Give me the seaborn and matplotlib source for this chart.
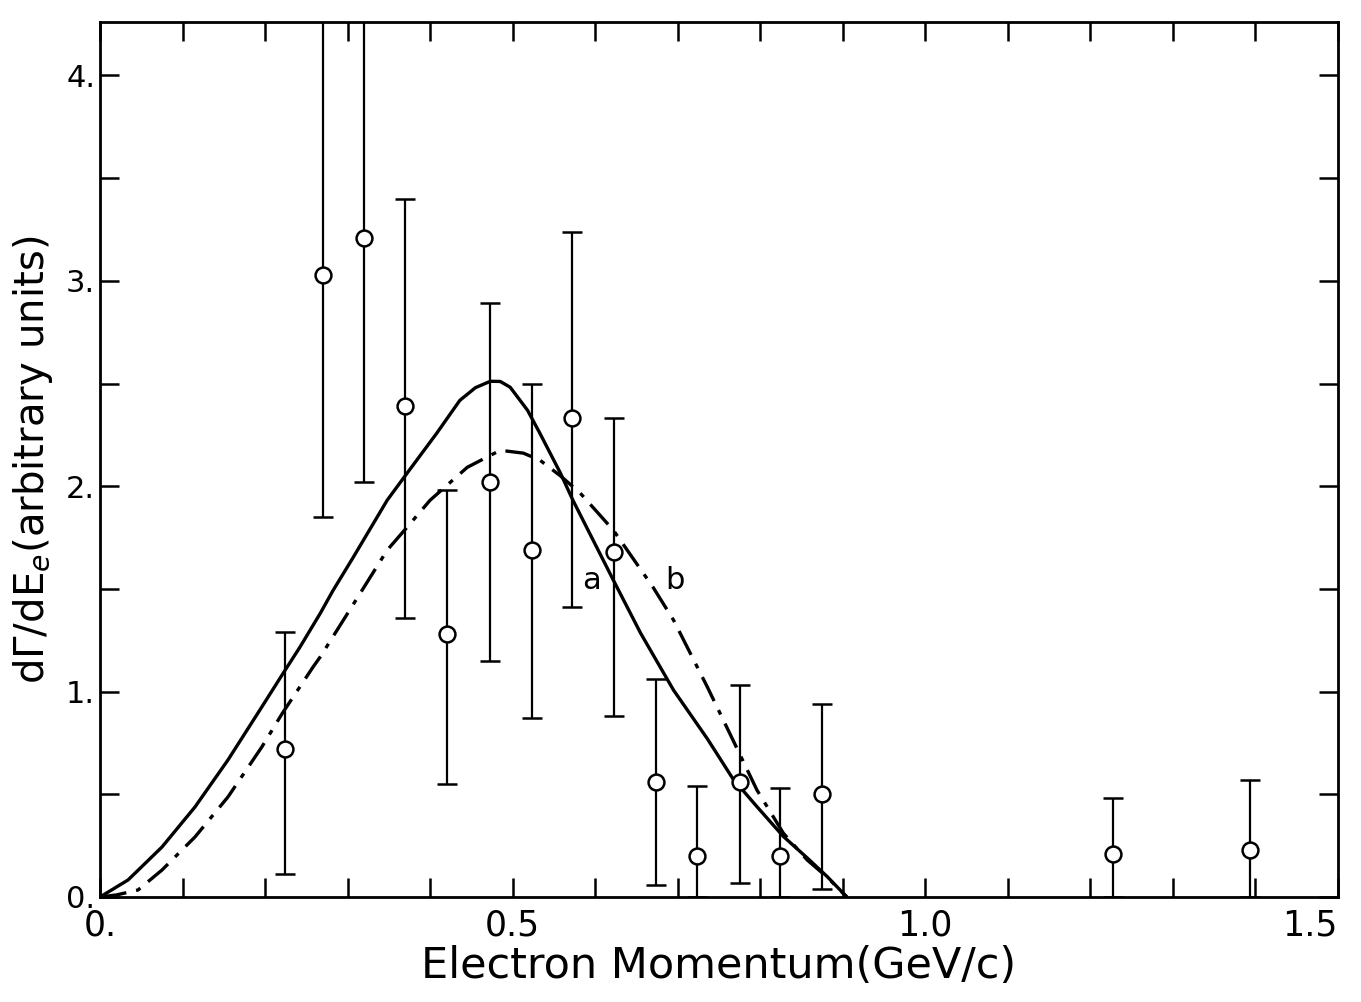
import matplotlib
matplotlib.use("Agg")
import matplotlib.pyplot as plt
import numpy as np
import pandas as pd
import seaborn as sns

# measured points (electron momentum, rate, error bar ends)
p_e = [0.224, 0.270, 0.320, 0.370, 0.421, 0.472, 0.524, 0.572, 0.623,
       0.674, 0.724, 0.775, 0.824, 0.875, 1.227, 1.394]
rate = [0.72, 3.03, 3.21, 2.39, 1.28, 2.02, 1.69, 2.33, 1.68,
        0.56, 0.20, 0.56, 0.20, 0.50, 0.21, 0.23]
err_hi = [1.29, 4.6, 4.6, 3.40, 1.98, 2.89, 2.50, 3.24, 2.33,
          1.06, 0.54, 1.03, 0.53, 0.94, 0.48, 0.57]
err_lo = [0.11, 1.85, 2.02, 1.36, 0.55, 1.15, 0.87, 1.41, 0.88,
          0.06, 0.00, 0.07, 0.00, 0.04, 0.00, 0.00]

# curve a (solid)
a_x = [0.0, 0.034, 0.075, 0.115, 0.155, 0.196, 0.222, 0.242, 0.267, 0.282,
       0.307, 0.348, 0.372, 0.408, 0.436, 0.455, 0.473, 0.485, 0.497, 0.518,
       0.533, 0.558, 0.573, 0.622, 0.655, 0.695, 0.736, 0.767, 0.796, 0.828,
       0.857, 0.881, 0.905]
a_y = [0.0, 0.083, 0.243, 0.438, 0.667, 0.925, 1.09, 1.215, 1.382, 1.49,
       1.655, 1.932, 2.063, 2.258, 2.418, 2.48, 2.511, 2.51, 2.482, 2.370,
       2.258, 2.063, 1.932, 1.543, 1.285, 1.007, 0.77, 0.575, 0.44, 0.295,
       0.19, 0.10, 0.0]

# curve b (dash-dot)
b_x = [0.0, 0.020, 0.046, 0.075, 0.115, 0.155, 0.196, 0.221, 0.258, 0.267,
       0.303, 0.348, 0.372, 0.400, 0.445, 0.485, 0.513, 0.533, 0.558, 0.582,
       0.622, 0.670, 0.695, 0.736, 0.767, 0.796, 0.828, 0.857, 0.881, 0.905]
b_y = [0.0, 0.01, 0.034, 0.131, 0.292, 0.487, 0.730, 0.895, 1.119, 1.17,
       1.40, 1.689, 1.800, 1.932, 2.092, 2.175, 2.161, 2.127, 2.05, 1.966,
       1.786, 1.509, 1.348, 1.022, 0.764, 0.521, 0.311, 0.180, 0.097, 0.0]

sns.set_style("ticks")
plt.rcParams['font.family'] = ['DejaVu Sans']
plt.rcParams['text.color'] = 'black'
plt.rcParams['axes.labelcolor'] = 'black'
plt.rcParams['xtick.color'] = 'black'
plt.rcParams['ytick.color'] = 'black'
plt.rcParams['axes.edgecolor'] = 'black'

fig = plt.figure(figsize=(13.61, 10.02), dpi=100)
ax = fig.add_axes([0.0735, 0.1048, 0.9095, 0.8732])

df_a = pd.DataFrame({'x': a_x, 'y': a_y})
df_b = pd.DataFrame({'x': b_x, 'y': b_y})
sns.lineplot(data=df_a, x='x', y='y', ax=ax, color='black', lw=2.4, sort=False)
sns.lineplot(data=df_b, x='x', y='y', ax=ax, color='black', lw=2.4, sort=False,
             linestyle=(0, (8, 3, 1.5, 3)))

yerr = [np.array(rate) - np.array(err_lo), np.array(err_hi) - np.array(rate)]
ax.errorbar(p_e, rate, yerr=yerr, fmt='none', ecolor='black', elinewidth=1.6,
            capsize=7, capthick=1.8, zorder=3)
df_pts = pd.DataFrame({'x': p_e, 'y': rate})
sns.scatterplot(data=df_pts, x='x', y='y', ax=ax, s=130, facecolor='white',
                edgecolor='black', linewidth=1.8, zorder=4)

ax.text(0.596, 1.54, 'a', fontsize=22, ha='center', va='center')
ax.text(0.697, 1.54, 'b', fontsize=22, ha='center', va='center')

ax.set_xlim(0, 1.5)
ax.set_ylim(0, 4.26)
ax.set_xticks(np.arange(0, 1.51, 0.1), minor=True)
ax.set_xticks([0, 0.5, 1.0, 1.5])
ax.set_xticklabels(['0.', '0.5', '1.0', '1.5'])
ax.set_yticks(np.arange(0, 4.26, 0.5), minor=True)
ax.set_yticks([0, 1, 2, 3, 4])
ax.set_yticklabels(['0.', '1.', '2.', '3.', '4.'])
ax.tick_params(which='both', direction='in', top=True, right=True,
               width=1.8, length=14, labelsize=22)
ax.tick_params(axis='x', which='major', pad=8, labelsize=25)
ax.get_xticklabels()[-1].set_ha('right')
for s in ax.spines.values():
    s.set_linewidth(2)

ax.set_xlabel('Electron Momentum(GeV/c)', fontsize=31, labelpad=2)
ax.set_ylabel(r'd$\Gamma$/dE$_e$(arbitrary units)', fontsize=29, labelpad=8)

fig.savefig('out.png', dpi=100)
